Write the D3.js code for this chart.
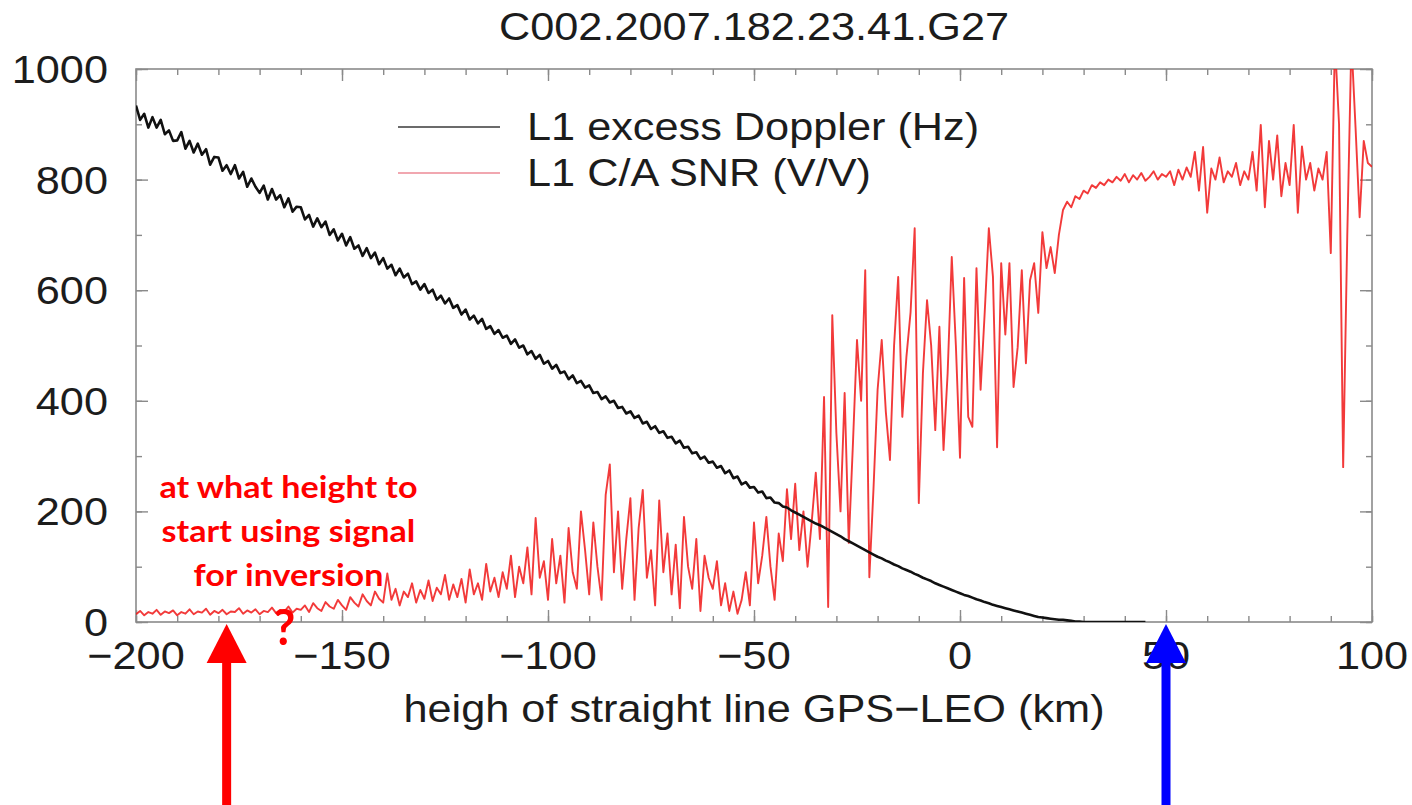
<!DOCTYPE html>
<html><head><meta charset="utf-8">
<script src="https://cdn.jsdelivr.net/npm/d3@7"></script>
<style>body{margin:0;background:#fff}svg{display:block}</style>
</head><body><svg id="c" width="1412" height="805"></svg>
<script>
const chartTitle = "C002.2007.182.23.41.G27";
const xLabel = "heigh of straight line GPS\u2212LEO (km)";
const legendLabels = ["L1 excess Doppler (Hz)", "L1 C/A SNR (V/V)"];
const xTicks = [-200, -150, -100, -50, 0, 50, 100];
const yTicks = [0, 200, 400, 600, 800, 1000];
const annotationLines = ["at what height to", "start using signal", "for inversion"];
const arrowKm = [-178, 50];

// L1 C/A SNR (V/V), one value per km starting at -200 km
const snrStartKm = -200;
const snrValues = [
  14,20,12,18,15,22,13,19,16,21,
  12,18,15,23,14,19,17,24,13,20,
  16,22,14,19,18,25,15,21,17,23,
  14,20,18,26,16,22,19,28,17,24,
  22,30,18,34,25,20,36,28,24,40,
  30,22,45,35,28,50,38,30,55,42,
  35,88,40,60,30,55,45,70,35,58,
  42,75,38,62,50,85,40,68,45,78,
  35,95,50,70,40,105,55,80,45,90,
  60,120,45,100,70,135,50,188,80,110,
  40,150,70,120,35,170,90,60,200,130,
  50,180,100,40,230,285,90,200,60,150,
  224,40,170,239,80,130,30,220,90,160,
  50,140,25,190,100,60,150,20,120,80,
  60,110,30,70,20,55,15,40,90,30,
  180,70,120,190,100,40,160,110,240,150,
  250,130,200,100,180,270,150,407,27,555,
  341,200,414,143,320,510,400,636,81,240,
  420,510,380,293,500,624,371,480,560,712,
  215,450,582,500,347,534,311,450,660,500,
  297,622,371,353,640,420,560,712,624,316,
  649,520,649,425,497,636,468,618,649,559,
  705,640,678,631,700,745,760,750,770,765,
  780,775,790,785,795,790,800,795,805,798,
  810,795,808,800,812,798,805,815,800,810,
  805,815,790,818,800,822,805,850,780,859,
  740,820,800,840,795,815,805,830,790,815,
  800,850,780,899,750,870,800,880,770,830,
  790,899,740,860,800,830,780,820,800,850,
  667,1050,900,280,700,1050,895,732,870,830,823
];

// L1 excess Doppler (Hz), one value per km starting at -200 km
const dopplerStartKm = -200;
const dopplerValues = [
  934,908,919,894,913,894,908,882,889,870,
  871,886,856,870,849,865,845,855,827,841,
  840,816,826,810,826,802,814,787,802,787,
  776,789,764,783,764,772,750,766,742,751,
  750,728,736,715,730,714,724,700,710,690,
  702,681,696,675,681,662,676,658,668,647,
  658,639,646,627,639,623,630,611,616,601,
  611,595,601,583,590,576,585,568,573,556,
  565,547,554,540,548,530,535,521,528,514,
  518,503,511,496,500,484,490,476,483,467,
  472,458,465,450,453,439,446,432,436,424,
  428,414,416,403,408,397,400,387,389,377,
  381,369,373,359,362,349,354,342,345,333,
  335,323,328,315,317,305,307,295,299,288,
  290,279,282,269,274,260,263,249,253,243,
  244,234,236,224,225,216,215,209,207,202,
  198,194,190,186,182,178,175,171,167,163,
  159,155,150,146,142,138,134,130,126,122,
  118,115,111,108,104,101,97,94,91,87,
  84,80,77,74,70,67,64,61,58,55,
  52,49,47,44,41,39,36,34,31,29,
  27,25,23,21,19,17,15,13,11,9,
  8,7,6,5,4,4,3,2,1,1,
  0,0,0,0,0,0,0,0,0,0,
  0,0,0,0,0,0
];

const W = 1412, H = 805;
const box = {left: 136, right: 1372, top: 69, bottom: 622};
const FONT = "'Liberation Sans', Arial, Helvetica, sans-serif";
const FS = 39, SX = 1.11;
const textColor = "#1c1c1c";
const frameColor = "#8a8a8a";

const svg = d3.select("#c");
const x = d3.scaleLinear().domain([-200, 100]).range([box.left, box.right]);
const y = d3.scaleLinear().domain([0, 1000]).range([box.bottom, box.top]);

const snr = snrValues.map((v, i) => ({h: snrStartKm + i, v}));
const dop = dopplerValues.map((v, i) => ({h: dopplerStartKm + i, v}));

function label(sel, px, py, s, anchor, opts = {}) {
  return sel.append("text")
    .attr("transform", `translate(${px},${py}) scale(${opts.sx || SX},1)`)
    .attr("text-anchor", anchor)
    .attr("font-family", opts.family || FONT)
    .attr("font-size", opts.size || FS)
    .attr("font-weight", opts.weight || "normal")
    .attr("fill", opts.fill || textColor)
    .text(s);
}

// clip
svg.append("defs").append("clipPath").attr("id", "plot")
  .append("rect").attr("x", box.left).attr("y", box.top)
  .attr("width", box.right - box.left).attr("height", box.bottom - box.top);

// ticks (inward, all four sides)
const minorX = d3.range(-200, 101, 10);
const minorY = d3.range(0, 1001, 100);
function styleAxis(g) {
  g.select(".domain").remove();
  g.selectAll(".tick line").attr("stroke", frameColor).attr("stroke-width", 1.4);
  g.selectAll("text").remove();
}
const axes = svg.append("g");
axes.append("g").attr("transform", `translate(0,${box.bottom})`)
  .call(d3.axisBottom(x).tickValues(minorX).tickSize(-6).tickFormat("")).call(styleAxis);
axes.append("g").attr("transform", `translate(0,${box.bottom})`)
  .call(d3.axisBottom(x).tickValues(xTicks).tickSize(-12).tickFormat("")).call(styleAxis);
axes.append("g").attr("transform", `translate(0,${box.top})`)
  .call(d3.axisTop(x).tickValues(minorX).tickSize(-6).tickFormat("")).call(styleAxis);
axes.append("g").attr("transform", `translate(0,${box.top})`)
  .call(d3.axisTop(x).tickValues(xTicks).tickSize(-12).tickFormat("")).call(styleAxis);
axes.append("g").attr("transform", `translate(${box.left},0)`)
  .call(d3.axisLeft(y).tickValues(minorY).tickSize(-6).tickFormat("")).call(styleAxis);
axes.append("g").attr("transform", `translate(${box.left},0)`)
  .call(d3.axisLeft(y).tickValues(yTicks).tickSize(-12).tickFormat("")).call(styleAxis);
axes.append("g").attr("transform", `translate(${box.right},0)`)
  .call(d3.axisRight(y).tickValues(minorY).tickSize(-6).tickFormat("")).call(styleAxis);
axes.append("g").attr("transform", `translate(${box.right},0)`)
  .call(d3.axisRight(y).tickValues(yTicks).tickSize(-12).tickFormat("")).call(styleAxis);

// frame
svg.append("rect").attr("x", box.left).attr("y", box.top)
  .attr("width", box.right - box.left).attr("height", box.bottom - box.top)
  .attr("fill", "none").attr("stroke", frameColor).attr("stroke-width", 1.6);

// tick labels
const fmt = d3.format("d");
xTicks.forEach(t => label(svg, x(t), 669, fmt(t), "middle"));
yTicks.forEach(t => label(svg, 108, y(t) + 14, fmt(t), "end"));

// title and axis title
label(svg, (box.left + box.right) / 2, 40, chartTitle, "middle");
label(svg, (box.left + box.right) / 2, 722, xLabel, "middle");

// data
const line = d3.line().x(d => x(d.h)).y(d => y(d.v));
const plot = svg.append("g").attr("clip-path", "url(#plot)");
plot.append("path").datum(snr).attr("d", line)
  .attr("fill", "none").attr("stroke", "#f01818").attr("stroke-width", 1.9)
  .attr("stroke-opacity", 0.85).attr("stroke-linejoin", "round");
plot.append("path").datum(dop).attr("d", line)
  .attr("fill", "none").attr("stroke", "#111").attr("stroke-width", 2.6)
  .attr("stroke-linejoin", "round");

// legend
const legColors = ["#3a3a3a", "#ec8a96"];
legendLabels.forEach((s, i) => {
  const ly = 127 + i * 46;
  svg.append("line").attr("x1", 398).attr("x2", 500).attr("y1", ly).attr("y2", ly)
    .attr("stroke", legColors[i]).attr("stroke-width", 1.6);
  label(svg, 527, ly + 13, s, "start");
});

// annotation text
const annX = x(-163);
annotationLines.forEach((s, i) => {
  label(svg, annX, 498 + i * 44, s, "middle",
    {family: "Lato, 'Open Sans', sans-serif", size: 31, weight: "bold", fill: "#ff0000", sx: 1.1});
});
label(svg, x(-164), 645, "?", "middle",
  {family: "Lato, 'Open Sans', sans-serif", size: 50, weight: "bold", fill: "#ff0000", sx: 0.95});

// arrows
const arrowColors = ["#ff0000", "#0000ff"];
arrowKm.forEach((k, i) => {
  const ax = x(k);
  const g = svg.append("g").attr("fill", arrowColors[i]);
  g.append("rect").attr("x", ax - 4.5).attr("y", 660).attr("width", 9).attr("height", H - 660);
  g.append("path").attr("d", `M${ax - 20},663 L${ax + 20},663 L${ax},624 Z`);
});
</script></body></html>
